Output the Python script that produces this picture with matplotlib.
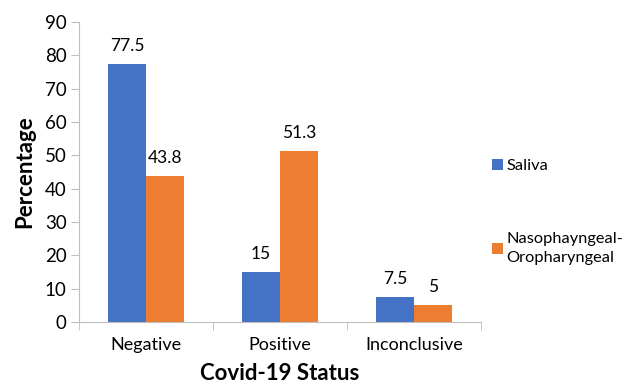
import numpy as np
import matplotlib
matplotlib.use("Agg")
import matplotlib.pyplot as plt

categories = ["Negative", "Positive", "Inconclusive"]
saliva = [77.5, 15, 7.5]
naso = [43.8, 51.3, 5]
saliva_labels = ["77.5", "15", "7.5"]
naso_labels = ["43.8", "51.3", "5"]

BLUE = "#4472C4"
ORANGE = "#ED7D31"
GREY = "#BFBFBF"

plt.rcParams["font.family"] = ["Lato", "DejaVu Sans"]

fig = plt.figure(figsize=(6.32, 3.85), dpi=100)
ax = fig.add_axes([0.125, 0.164, 0.636, 0.779])

x = np.arange(len(categories))
w = 0.285
b1 = ax.bar(x - w / 2, saliva, w, color=BLUE, label="Saliva")
b2 = ax.bar(x + w / 2, naso, w, color=ORANGE, label="Nasophayngeal-\nOropharyngeal")

ax.bar_label(b1, labels=saliva_labels, padding=7, fontsize=12.5)
ax.bar_label(b2, labels=naso_labels, padding=7, fontsize=12.5)

ax.set_xlim(-0.5, 2.5)
ax.set_ylim(0, 90)
ax.set_yticks(range(0, 91, 10))
ax.set_xticks(x)
ax.set_xticklabels(categories, fontsize=13)
ax.set_xticks([-0.5, 0.5, 1.5, 2.5], minor=True)
ax.tick_params(axis="x", which="major", length=0, pad=11)
ax.tick_params(axis="x", which="minor", length=6, color=GREY)
ax.tick_params(axis="y", length=6, color=GREY, labelsize=13.5, pad=3)

for s in ["top", "right"]:
    ax.spines[s].set_visible(False)
for s in ["left", "bottom"]:
    ax.spines[s].set_color(GREY)

ax.set_ylabel("Percentage", fontsize=16, fontweight="bold", labelpad=7)
ax.set_xlabel("Covid-19 Status", fontsize=16, fontweight="bold", labelpad=7)

leg = fig.legend(loc="upper left", bbox_to_anchor=(0.768, 0.605), frameon=False,
                 fontsize=11.8, handlelength=0.65, handleheight=0.65,
                 handletextpad=0.25, labelspacing=3.6, borderaxespad=0)
for t in leg.get_texts():
    t.set_linespacing(1.5)

fig.savefig("out.png", dpi=100)
